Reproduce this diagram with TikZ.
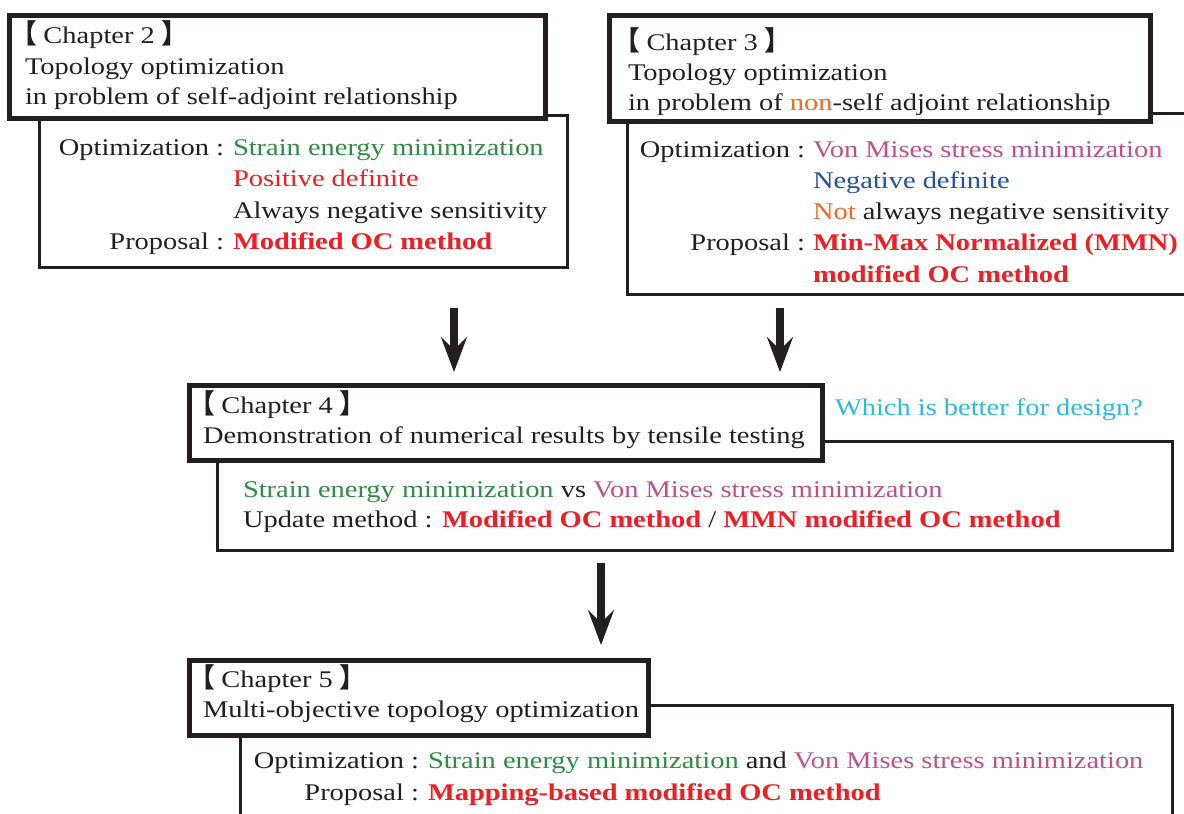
\documentclass[tikz,border=0pt]{standalone}
\usepackage{fontspec}
\setmainfont{Liberation Serif}[FakeStretch=1.19]
\newfontfamily\cjk{Noto Sans CJK JP}[Scale=1.12, RawFeature=+palt]
\usetikzlibrary{arrows.meta}

\definecolor{ink}{RGB}{35,31,32}
\definecolor{sgreen}{RGB}{48,139,68}
\definecolor{sred}{RGB}{237,30,36}
\definecolor{vmpink}{RGB}{188,82,140}
\definecolor{nblue}{RGB}{38,78,162}
\definecolor{norange}{RGB}{242,104,38}
\definecolor{qcyan}{RGB}{45,185,228}

\newcommand{\openbr}{{\cjk\bfseries 【}}
\newcommand{\closebr}{{\cjk\bfseries 】}}

\tikzset{
  hdrbox/.style={draw=ink, line width=5pt, fill=white, rectangle,
    inner sep=0pt, outer sep=0pt, anchor=north west},
  bodybox/.style={draw=ink, line width=3pt, fill=white, rectangle,
    inner sep=0pt, outer sep=0pt, anchor=north west},
  txt/.style={inner sep=0pt, outer sep=0pt, anchor=base west,
    font=\fontsize{23.9}{30.5}\selectfont, text=ink},
  lbl/.style={txt, anchor=base east},
  bigarrow/.style={draw=ink, line width=7.5pt,
    -{Stealth[length=35pt,width=26pt,inset=13pt]}},
}

\begin{document}
\begin{tikzpicture}[x=1pt,y=-1pt]
\clip (0,0) rectangle (1184,814);

% ---------- Chapter 2 ----------
\node[bodybox, minimum width=528, minimum height=152] (c2body) at (39,115) {};
\node[hdrbox, minimum width=535.5, minimum height=103] (c2head) at (9.5,15.5) {};
\node[txt] (c2t1) at (23,43) {\openbr\ Chapter 2 \closebr};
\node[txt] (c2t2) at (25,74) {Topology optimization};
\node[txt] (c2t3) at (25,104) {in problem of self-adjoint relationship};
\node[lbl] (c2l1) at (224,155) {Optimization :};
\node[txt] (c2v1) at (233,155) {\textcolor{sgreen}{Strain energy minimization}};
\node[txt] (c2v2) at (233,186.5) {\textcolor{sred}{Positive definite}};
\node[txt] (c2v3) at (233,218) {Always negative sensitivity};
\node[lbl] (c2l2) at (224,249) {Proposal :};
\node[txt] (c2v4) at (233,249) {\textcolor{sred}{\bfseries Modified OC method}};

% ---------- Chapter 3 ----------
\node[bodybox, minimum width=580, minimum height=181] (c3body) at (627,113.5) {};
\node[hdrbox, minimum width=540.5, minimum height=106] (c3head) at (609.5,15.5) {};
\node[txt] (c3t1) at (626,50) {\openbr\ Chapter 3 \closebr};
\node[txt] (c3t2) at (628,80) {Topology optimization};
\node[txt] (c3t3) at (628,110) {in problem of \textcolor{norange}{non}-self adjoint relationship};
\node[lbl] (c3l1) at (805,157) {Optimization :};
\node[txt] (c3v1) at (813,157) {\textcolor{vmpink}{Von Mises stress minimization}};
\node[txt] (c3v2) at (813,188) {\textcolor{nblue}{Negative definite}};
\node[txt] (c3v3) at (813,219) {\textcolor{norange}{Not} always negative sensitivity};
\node[lbl] (c3l2) at (805,250) {Proposal :};
\node[txt] (c3v4) at (813,250) {\textcolor{sred}{\bfseries Min-Max Normalized (MMN)}};
\node[txt] (c3v5) at (813,282) {\textcolor{sred}{\bfseries modified OC method}};

% ---------- arrows into Chapter 4 ----------
\coordinate (a1s) at (454,308);
\coordinate (a1e) at (454,372);
\coordinate (a2s) at (780,308);
\coordinate (a2e) at (780,372);
\draw[bigarrow] (a1s) -- (a1e);
\draw[bigarrow] (a2s) -- (a2e);

% ---------- Chapter 4 ----------
\node[bodybox, minimum width=954.5, minimum height=109] (c4body) at (217.5,441) {};
\node[hdrbox, minimum width=633, minimum height=75] (c4head) at (189.5,385.5) {};
\node[txt] (c4t1) at (201,413) {\openbr\ Chapter 4 \closebr};
\node[txt] (c4t2) at (203,443) {Demonstration of numerical results by tensile testing};
\node[txt, text=qcyan] (c4q) at (835,415) {Which is better for design?};
\node[txt] (c4v1) at (243,497) {\textcolor{sgreen}{Strain energy minimization} vs \textcolor{vmpink}{Von Mises stress minimization}};
\node[txt] (c4v2) at (243,527) {Update method : \textcolor{sred}{\bfseries Modified OC method} / \textcolor{sred}{\bfseries MMN modified OC method}};

% ---------- arrow into Chapter 5 ----------
\coordinate (a3s) at (601,563);
\coordinate (a3e) at (601,645);
\draw[bigarrow] (a3s) -- (a3e);

% ---------- Chapter 5 ----------
\node[bodybox, minimum width=932, minimum height=150] (c5body) at (240,705) {};
\node[hdrbox, minimum width=459, minimum height=75] (c5head) at (189.5,660.5) {};
\node[txt] (c5t1) at (201,687) {\openbr\ Chapter 5 \closebr};
\node[txt] (c5t2) at (203,717) {Multi-objective topology optimization};
\node[lbl] (c5l1) at (419,768) {Optimization :};
\node[txt] (c5v1) at (428,768) {\textcolor{sgreen}{Strain energy minimization} and \textcolor{vmpink}{Von Mises stress minimization}};
\node[lbl] (c5l2) at (419,800) {Proposal :};
\node[txt] (c5v2) at (428,800) {\textcolor{sred}{\bfseries Mapping-based modified OC method}};
\end{tikzpicture}
\end{document}
